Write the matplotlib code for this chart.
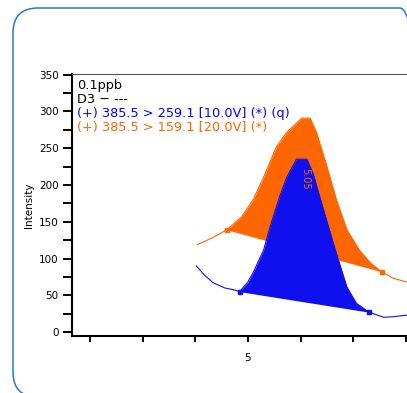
import numpy as np
import matplotlib
matplotlib.use("Agg")
import matplotlib.pyplot as plt
from matplotlib.patches import FancyBboxPatch
from matplotlib.ticker import MultipleLocator

# blue trace: 385.5 > 259.1
t_blue = [4.951, 4.959, 4.967, 4.978, 4.988, 4.992, 5.000, 5.006, 5.015, 5.021,
          5.030, 5.037, 5.046, 5.056, 5.062, 5.073, 5.085, 5.094, 5.103, 5.115,
          5.129, 5.139, 5.151]
i_blue = [90, 77, 67, 60, 57, 55, 68, 84, 112, 143,
          184, 211, 235, 235, 215, 160, 102, 61, 39, 27,
          20, 21, 23]

# orange trace: 385.5 > 159.1
t_orange = [4.952, 4.966, 4.980, 4.994, 5.005, 5.015, 5.027, 5.037, 5.046, 5.051,
            5.059, 5.065, 5.075, 5.084, 5.094, 5.106, 5.117, 5.127, 5.138, 5.151]
i_orange = [119, 128, 139, 157, 180, 211, 252, 272, 284, 291,
            291, 272, 225, 180, 139, 111, 93, 82, 73, 68]

# integration limits (index of start/end points)
blue_lim = (5, 19)
orange_lim = (2, 17)

legend_lines = ["0.1ppb", "D3 \u2212 ---",
                "(+) 385.5 > 259.1 [10.0V] (*) (q)",
                "(+) 385.5 > 159.1 [20.0V] (*)"]
legend_colors = ["black", "black", "#0000ff", "#ff6600"]
peak_rt = "5.05"

fig = plt.figure(figsize=(4.07, 3.93), dpi=100)
ax = fig.add_axes([72/407, 57/393, 1 - 72/407, 262/393])
ax.set_facecolor("none")

def draw_trace(t, y, lim, col, lw):
    t = np.array(t)
    y = np.array(y, dtype=float)
    a, b = lim
    ax.plot(t, y, color=col, lw=lw)
    seg_t = t[a:b+1]
    base = np.interp(seg_t, [t[a], t[b]], [y[a], y[b]])
    ax.fill_between(seg_t, y[a:b+1], base, color=col, lw=0)
    ax.plot([t[a], t[b]], [y[a], y[b]], 's', color=col, ms=3.5)

draw_trace(t_orange, i_orange, orange_lim, "#ff6600", 0.8)
draw_trace(t_blue, i_blue, blue_lim, "#1010ee", 0.8)

ax.text(5.054, 209, peak_rt, rotation=-90, color="#ff6600", fontsize=7,
        ha="center", va="center")

ax.set_xlim(4.833, 5.151)
ax.set_ylim(-5.4, 351)
ax.xaxis.set_major_locator(MultipleLocator(0.05))
ax.xaxis.set_major_formatter(lambda v, p: "5" if abs(v - 5) < 1e-6 else "")
ax.yaxis.set_major_locator(MultipleLocator(50))
ax.yaxis.set_minor_locator(MultipleLocator(25))

ax.spines["right"].set_visible(False)
ax.spines["top"].set_color("#555555")
ax.spines["top"].set_linewidth(0.8)
ax.spines["left"].set_linewidth(1.5)
ax.spines["bottom"].set_linewidth(1.5)
ax.tick_params(axis="y", which="both", length=6.5, width=1.4, pad=3, labelsize=7.5)
ax.tick_params(axis="x", length=4.3, width=1.4, pad=8, labelsize=7.5)

fig.text(29/407, 1 - 205/393, "Intensity", rotation=90, ha="center", va="center",
         fontsize=7.5)

for k, (s, c) in enumerate(zip(legend_lines, legend_colors)):
    fig.text(77/407, 1 - (89.5 + 13.8*k)/393, s, color=c, fontsize=9.3,
             va="baseline", ha="left")

# rounded frame, partly cut off at right and bottom
box = FancyBboxPatch((13, -4), 412, 389, boxstyle="round,pad=0,rounding_size=25",
                     transform=None, fill=False, edgecolor="#1f7ccc", lw=1.1)
fig.add_artist(box)

fig.savefig("out.png", dpi=100)
